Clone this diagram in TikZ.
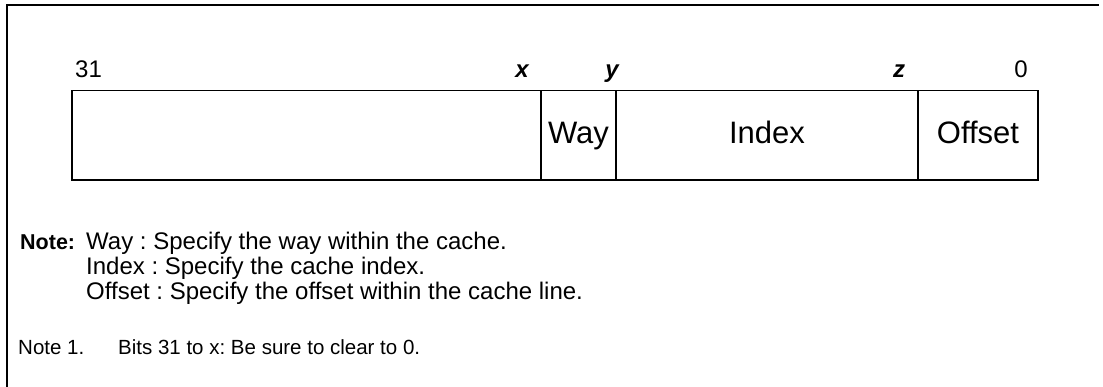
\documentclass[tikz,border=0pt]{standalone}
\usepackage{fontspec}
\setmainfont{Liberation Sans}
\frenchspacing
\begin{document}
\begin{tikzpicture}[x=1pt,y=-1pt,
  frame/.style={line width=2pt,line cap=rect},
  field/.style={draw,line width=1.3pt,minimum height=89.5pt,inner sep=0pt,outer sep=0pt,
    text height=22pt,text depth=6pt,font=\fontsize{31}{35}\selectfont},
  bitnum/.style={anchor=base,inner sep=0pt,font=\fontsize{24}{28}\selectfont},
  bitvar/.style={anchor=base,inner sep=0pt,font=\fontsize{24}{28}\selectfont\bfseries\itshape},
  notetxt/.style={anchor=base west,inner sep=0pt,font=\fontsize{24}{28}\selectfont},
  smallnote/.style={anchor=base west,inner sep=0pt,font=\fontsize{20.5}{24}\selectfont}
]
\useasboundingbox (0,0) rectangle (1103,386);
% frame (top and left only)
\coordinate (ftl) at (7,5);
\coordinate (ftr) at (1098,5);
\coordinate (fbl) at (7,386);
\draw[frame] (ftr) -- (ftl) -- (fbl);
% register fields
\node[field,minimum width=469pt,anchor=north west] (f1) at (72,90.5) {};
\node[field,minimum width=75pt,anchor=north west] (way) at (f1.north east) {Way};
\node[field,minimum width=302pt,anchor=north west] (index) at (way.north east) {Index};
\node[field,minimum width=120pt,anchor=north west] (offset) at (index.north east) {Offset};
% bit labels
\node[bitnum,anchor=base west] (b31) at (75,77) {31};
\node[bitvar] (bx) at (522,77) {x};
\node[bitvar] (by) at (612,77) {y};
\node[bitvar] (bz) at (899,77) {z};
\node[bitnum] (b0) at (1021,77) {0};
% notes
\node[notetxt,font=\fontsize{21.5}{25}\selectfont\bfseries] (note) at (20,249) {Note:};
\node[notetxt] (n1) at (86,249) {Way : Specify the way within the cache.};
\node[notetxt] (n2) at (86,274) {Index : Specify the cache index.};
\node[notetxt] (n3) at (86,299) {Offset : Specify the offset within the cache line.};
\node[smallnote] (note1) at (18,354) {Note 1.};
\node[smallnote] (note1t) at (118,354) {Bits 31 to x: Be sure to clear to 0.};
\end{tikzpicture}
\end{document}
